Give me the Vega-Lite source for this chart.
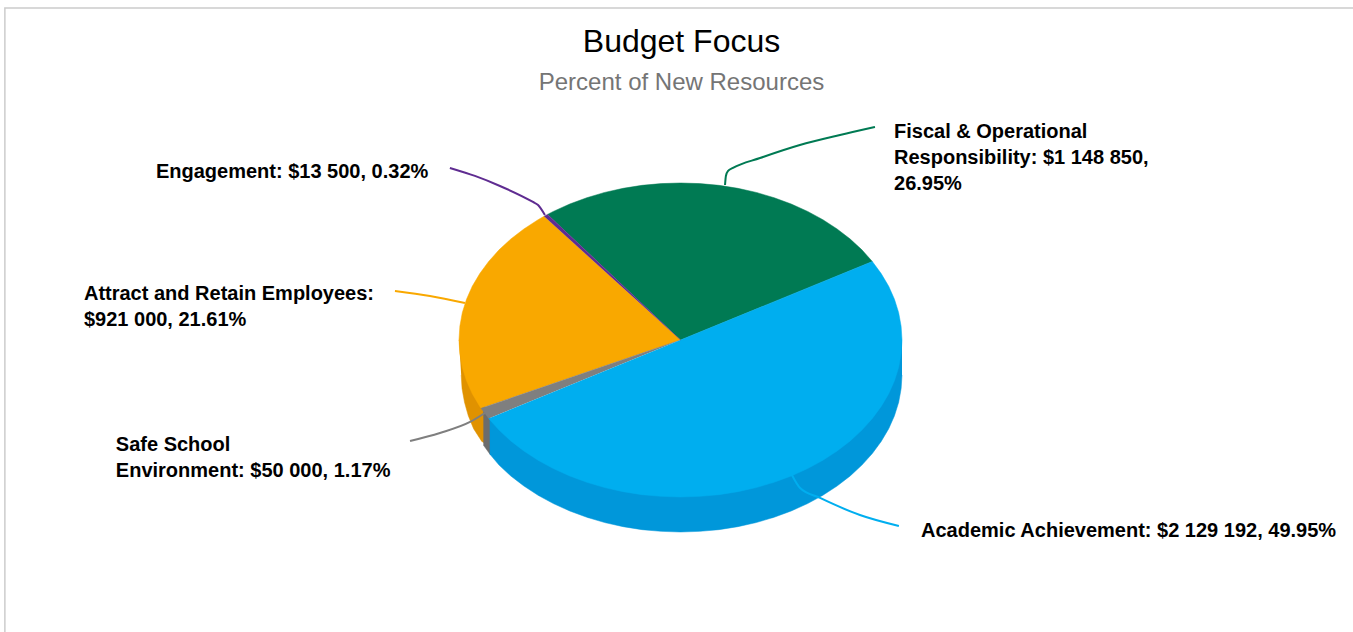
{"$schema":"https://vega.github.io/schema/vega-lite/v6.json","width":1353,"height":632,"padding":0,"autosize":{"type":"none"},"background":"white","config":{"view":{"stroke":null},"font":"Liberation Sans"},
"title":{"text":"Budget Focus","subtitle":"Percent of New Resources","anchor":"middle","frame":"group","dx":5,"offset":-96,"font":"Liberation Sans","fontSize":32,"fontWeight":"normal","color":"#000000","subtitleFont":"Liberation Sans","subtitleFontSize":24,"subtitleColor":"#757575","subtitlePadding":12},
"datasets":{
"frame":[{"i":0,"x":-305,"y":-186},{"i":1,"x":-305,"y":211.5},{"i":2,"x":303.6,"y":211.5}],
"sides":[
{"part":"Attract side","i":0,"x":-100,"y":0},{"part":"Attract side","i":1,"x":-88,"y":-43.5},{"part":"Attract side","i":2,"x":-88,"y":-66},{"part":"Attract side","i":3,"x":-89.7,"y":-64.6},{"part":"Attract side","i":4,"x":-93.4,"y":-56.5},{"part":"Attract side","i":5,"x":-95.8,"y":-48.2},{"part":"Attract side","i":6,"x":-97.5,"y":-39.7},{"part":"Attract side","i":7,"x":-98.6,"y":-31},{"part":"Attract side","i":8,"x":-99,"y":-22.3},
{"part":"Safe side","i":0,"x":-89,"y":-44.6},{"part":"Safe side","i":1,"x":-86,"y":-49.5},{"part":"Safe side","i":2,"x":-86,"y":-72.8},{"part":"Safe side","i":3,"x":-89,"y":-66.9},
{"part":"Academic side","i":0,"x":100,"y":0},{"part":"Academic side","i":1,"x":-86,"y":-50},{"part":"Academic side","i":2,"x":-86,"y":-72.8},{"part":"Academic side","i":3,"x":-81.9,"y":-79.7},{"part":"Academic side","i":4,"x":-76.6,"y":-86.6},{"part":"Academic side","i":5,"x":-70.7,"y":-93},{"part":"Academic side","i":6,"x":-64.3,"y":-98.9},{"part":"Academic side","i":7,"x":-57.4,"y":-104.2},{"part":"Academic side","i":8,"x":-50,"y":-108.9},{"part":"Academic side","i":9,"x":-42.3,"y":-112.9},{"part":"Academic side","i":10,"x":-34.2,"y":-116.3},{"part":"Academic side","i":11,"x":-25.9,"y":-118.9},{"part":"Academic side","i":12,"x":-17.4,"y":-120.8},{"part":"Academic side","i":13,"x":-8.7,"y":-121.9},{"part":"Academic side","i":14,"x":0,"y":-122.3},{"part":"Academic side","i":15,"x":8.7,"y":-121.9},{"part":"Academic side","i":16,"x":17.4,"y":-120.8},{"part":"Academic side","i":17,"x":25.9,"y":-118.9},{"part":"Academic side","i":18,"x":34.2,"y":-116.3},{"part":"Academic side","i":19,"x":42.3,"y":-112.9},{"part":"Academic side","i":20,"x":50,"y":-108.9},{"part":"Academic side","i":21,"x":57.4,"y":-104.2},{"part":"Academic side","i":22,"x":64.3,"y":-98.9},{"part":"Academic side","i":23,"x":70.7,"y":-93},{"part":"Academic side","i":24,"x":76.6,"y":-86.6},{"part":"Academic side","i":25,"x":81.9,"y":-79.7},{"part":"Academic side","i":26,"x":86.6,"y":-72.3},{"part":"Academic side","i":27,"x":90.6,"y":-64.6},{"part":"Academic side","i":28,"x":94,"y":-56.5},{"part":"Academic side","i":29,"x":96.6,"y":-48.2},{"part":"Academic side","i":30,"x":98.5,"y":-39.7},{"part":"Academic side","i":31,"x":99.6,"y":-31},{"part":"Academic side","i":32,"x":100,"y":-22.3}],
"tops":[
{"part":"Fiscal","i":0,"x":0,"y":0},{"part":"Fiscal","i":1,"x":86.6,"y":50},{"part":"Fiscal","i":2,"x":81.9,"y":57.4},{"part":"Fiscal","i":3,"x":76.6,"y":64.3},{"part":"Fiscal","i":4,"x":70.7,"y":70.7},{"part":"Fiscal","i":5,"x":64.3,"y":76.6},{"part":"Fiscal","i":6,"x":57.4,"y":81.9},{"part":"Fiscal","i":7,"x":50,"y":86.6},{"part":"Fiscal","i":8,"x":42.3,"y":90.6},{"part":"Fiscal","i":9,"x":34.2,"y":94},{"part":"Fiscal","i":10,"x":25.9,"y":96.6},{"part":"Fiscal","i":11,"x":17.4,"y":98.5},{"part":"Fiscal","i":12,"x":8.7,"y":99.6},{"part":"Fiscal","i":13,"x":0,"y":100},{"part":"Fiscal","i":14,"x":-8.7,"y":99.6},{"part":"Fiscal","i":15,"x":-17.4,"y":98.5},{"part":"Fiscal","i":16,"x":-25.9,"y":96.6},{"part":"Fiscal","i":17,"x":-34.2,"y":94},{"part":"Fiscal","i":18,"x":-42.3,"y":90.6},{"part":"Fiscal","i":19,"x":-50,"y":86.6},{"part":"Fiscal","i":20,"x":-57.4,"y":81.9},{"part":"Fiscal","i":21,"x":-60,"y":80},
{"part":"Attract","i":0,"x":0,"y":0},{"part":"Attract","i":1,"x":-61.6,"y":78.8},{"part":"Attract","i":2,"x":-64.3,"y":76.6},{"part":"Attract","i":3,"x":-70.7,"y":70.7},{"part":"Attract","i":4,"x":-76.6,"y":64.3},{"part":"Attract","i":5,"x":-81.9,"y":57.4},{"part":"Attract","i":6,"x":-86.6,"y":50},{"part":"Attract","i":7,"x":-90.6,"y":42.3},{"part":"Attract","i":8,"x":-94,"y":34.2},{"part":"Attract","i":9,"x":-96.6,"y":25.9},{"part":"Attract","i":10,"x":-98.5,"y":17.4},{"part":"Attract","i":11,"x":-99.6,"y":8.7},{"part":"Attract","i":12,"x":-100,"y":0},{"part":"Attract","i":13,"x":-99.6,"y":-8.7},{"part":"Attract","i":14,"x":-98.5,"y":-17.4},{"part":"Attract","i":15,"x":-96.6,"y":-25.9},{"part":"Attract","i":16,"x":-94,"y":-34.2},{"part":"Attract","i":17,"x":-90.6,"y":-42.3},{"part":"Attract","i":18,"x":-90,"y":-43.5},
{"part":"Safe","i":0,"x":0,"y":0},{"part":"Safe","i":1,"x":-90,"y":-43.5},{"part":"Safe","i":2,"x":-86.6,"y":-50},
{"part":"Academic","i":0,"x":0,"y":0},{"part":"Academic","i":1,"x":86.6,"y":50},{"part":"Academic","i":2,"x":90.6,"y":42.3},{"part":"Academic","i":3,"x":94,"y":34.2},{"part":"Academic","i":4,"x":96.6,"y":25.9},{"part":"Academic","i":5,"x":98.5,"y":17.4},{"part":"Academic","i":6,"x":99.6,"y":8.7},{"part":"Academic","i":7,"x":100,"y":0},{"part":"Academic","i":8,"x":99.6,"y":-8.7},{"part":"Academic","i":9,"x":98.5,"y":-17.4},{"part":"Academic","i":10,"x":96.6,"y":-25.9},{"part":"Academic","i":11,"x":94,"y":-34.2},{"part":"Academic","i":12,"x":90.6,"y":-42.3},{"part":"Academic","i":13,"x":86.6,"y":-50},{"part":"Academic","i":14,"x":81.9,"y":-57.4},{"part":"Academic","i":15,"x":76.6,"y":-64.3},{"part":"Academic","i":16,"x":70.7,"y":-70.7},{"part":"Academic","i":17,"x":64.3,"y":-76.6},{"part":"Academic","i":18,"x":57.4,"y":-81.9},{"part":"Academic","i":19,"x":50,"y":-86.6},{"part":"Academic","i":20,"x":42.3,"y":-90.6},{"part":"Academic","i":21,"x":34.2,"y":-94},{"part":"Academic","i":22,"x":25.9,"y":-96.6},{"part":"Academic","i":23,"x":17.4,"y":-98.5},{"part":"Academic","i":24,"x":8.7,"y":-99.6},{"part":"Academic","i":25,"x":0,"y":-100},{"part":"Academic","i":26,"x":-8.7,"y":-99.6},{"part":"Academic","i":27,"x":-17.4,"y":-98.5},{"part":"Academic","i":28,"x":-25.9,"y":-96.6},{"part":"Academic","i":29,"x":-34.2,"y":-94},{"part":"Academic","i":30,"x":-42.3,"y":-90.6},{"part":"Academic","i":31,"x":-50,"y":-86.6},{"part":"Academic","i":32,"x":-57.4,"y":-81.9},{"part":"Academic","i":33,"x":-64.3,"y":-76.6},{"part":"Academic","i":34,"x":-70.7,"y":-70.7},{"part":"Academic","i":35,"x":-76.6,"y":-64.3},{"part":"Academic","i":36,"x":-81.9,"y":-57.4},{"part":"Academic","i":37,"x":-86.6,"y":-50},
{"part":"Engagement","i":0,"x":0,"y":0},{"part":"Engagement","i":1,"x":-60,"y":80},{"part":"Engagement","i":2,"x":-61.6,"y":78.8}],
"leaders":[
{"part":"Fiscal","i":0,"x":20.1,"y":98.7},{"part":"Fiscal","i":1,"x":20.5,"y":104.5},{"part":"Fiscal","i":2,"x":21.4,"y":107.6},{"part":"Fiscal","i":3,"x":23.7,"y":109.6},{"part":"Fiscal","i":4,"x":35.9,"y":115.9},{"part":"Fiscal","i":5,"x":53.9,"y":124.2},{"part":"Fiscal","i":6,"x":72,"y":130.6},{"part":"Fiscal","i":7,"x":87.8,"y":135.7},
{"part":"Engagement","i":0,"x":-61.2,"y":79.6},{"part":"Engagement","i":1,"x":-64.3,"y":86},{"part":"Engagement","i":2,"x":-66.6,"y":87.9},{"part":"Engagement","i":3,"x":-81.5,"y":98.1},{"part":"Engagement","i":4,"x":-92.8,"y":104.5},{"part":"Engagement","i":5,"x":-104.1,"y":109.6},
{"part":"Attract","i":0,"x":-97.3,"y":23.6},{"part":"Attract","i":1,"x":-113.1,"y":28},{"part":"Attract","i":2,"x":-128.9,"y":31.2},
{"part":"Safe","i":0,"x":-88.3,"y":-46.5},{"part":"Safe","i":1,"x":-95,"y":-52.2},{"part":"Safe","i":2,"x":-108.6,"y":-59.2},{"part":"Safe","i":3,"x":-122.1,"y":-64.3},
{"part":"Academic","i":0,"x":50.3,"y":-86},{"part":"Academic","i":1,"x":54,"y":-94.3},{"part":"Academic","i":2,"x":63,"y":-100.6},{"part":"Academic","i":3,"x":81,"y":-111.5},{"part":"Academic","i":4,"x":98.6,"y":-118.5}],
"labels":[
{"part":"Fiscal","amount":1148850,"percent":26.95,"label":"Fiscal & Operational\nResponsibility: $1 148 850,\n26.95%","x":96.4,"y":128.7},
{"part":"Engagement","amount":13500,"percent":0.32,"label":"Engagement: $13 500, 0.32%","x":-236.8,"y":103.2},
{"part":"Attract","amount":921000,"percent":21.61,"label":"Attract and Retain Employees:\n$921 000, 21.61%","x":-269.3,"y":25.5},
{"part":"Safe","amount":50000,"percent":1.17,"label":"Safe School\nEnvironment: $50 000, 1.17%","x":-254.9,"y":-70.7},
{"part":"Academic","amount":2129192,"percent":49.95,"label":"Academic Achievement: $2 129 192, 49.95%","x":108.6,"y":-125.5}]
},
"encoding":{
"x":{"field":"x","type":"quantitative","axis":null,"scale":{"domain":[-307.2,303.6],"range":[0,1353],"nice":false,"zero":false}},
"y":{"field":"y","type":"quantitative","axis":null,"scale":{"domain":[-186,216.56],"range":[632,0],"nice":false,"zero":false}}},
"layer":[
{"data":{"name":"frame"},"mark":{"type":"line","stroke":"#cccccc","strokeWidth":1.5,"clip":false},"encoding":{"order":{"field":"i"}}},
{"data":{"name":"sides"},"mark":{"type":"line","strokeWidth":0.5},"encoding":{"order":{"field":"i"},
"fill":{"field":"part","legend":null,"scale":{"domain":["Academic","Fiscal","Attract","Safe","Engagement","Academic side","Attract side","Safe side"],"range":["#00AEEF","#007A53","#F9A800","#7F7F7F","#5F2C91","#0097DA","#E09200","#6C6C6C"]}},
"stroke":{"field":"part","legend":null,"scale":{"domain":["Academic","Fiscal","Attract","Safe","Engagement","Academic side","Attract side","Safe side"],"range":["#00AEEF","#007A53","#F9A800","#7F7F7F","#5F2C91","#0097DA","#E09200","#6C6C6C"]}}}},
{"data":{"name":"tops"},"mark":{"type":"line","strokeWidth":0.5},"encoding":{"order":{"field":"i"},
"fill":{"field":"part","legend":null,"scale":{"domain":["Academic","Fiscal","Attract","Safe","Engagement","Academic side","Attract side","Safe side"],"range":["#00AEEF","#007A53","#F9A800","#7F7F7F","#5F2C91","#0097DA","#E09200","#6C6C6C"]}},
"stroke":{"field":"part","legend":null,"scale":{"domain":["Academic","Fiscal","Attract","Safe","Engagement","Academic side","Attract side","Safe side"],"range":["#00AEEF","#007A53","#F9A800","#7F7F7F","#5F2C91","#0097DA","#E09200","#6C6C6C"]}}}},
{"data":{"name":"leaders"},"mark":{"type":"line","strokeWidth":2,"interpolate":"monotone","fill":null},"encoding":{"order":{"field":"i"},
"stroke":{"field":"part","legend":null,"scale":{"domain":["Academic","Fiscal","Attract","Safe","Engagement","Academic side","Attract side","Safe side"],"range":["#00AEEF","#007A53","#F9A800","#7F7F7F","#5F2C91","#0097DA","#E09200","#6C6C6C"]}}}},
{"data":{"name":"labels"},"mark":{"type":"text","align":"left","baseline":"alphabetic","lineBreak":"\n","lineHeight":26,"font":"Liberation Sans","fontSize":20,"fontWeight":"bold","color":"#000000"},"encoding":{"text":{"field":"label"}}}
]}
